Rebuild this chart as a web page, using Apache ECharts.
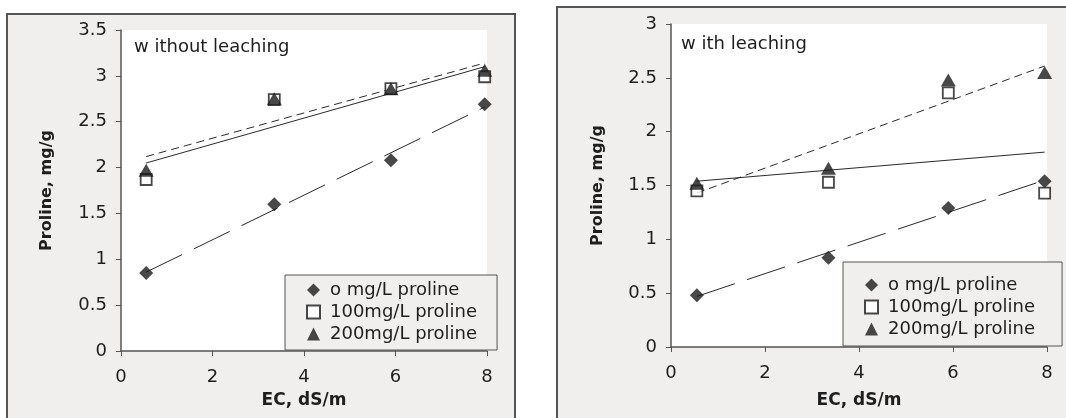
<!DOCTYPE html>
<html><head><meta charset="utf-8">
<script src="https://cdn.jsdelivr.net/npm/echarts@6/dist/echarts.min.js"></script>
<style>html,body{margin:0;padding:0;background:#fff}#c{width:1066px;height:418px}</style>
</head><body><div id="c"></div>
<script>
// EC values (dS/m)
const ecX = [0.55, 3.35, 5.9, 7.95];
// without leaching
const noLeach0 = [0.85, 1.60, 2.08, 2.69];
const noLeach100 = [1.87, 2.74, 2.86, 2.99];
const noLeach200 = [1.97, 2.75, 2.86, 3.06];
// with leaching
const leach0 = [0.48, 0.83, 1.29, 1.54];
const leach100 = [1.45, 1.53, 2.36, 1.43];
const leach200 = [1.52, 1.66, 2.48, 2.55];
// trend line end points
const trendX = [0.55, 7.95];
const noLeachTrend0 = [0.86, 2.66];
const noLeachTrend100 = [2.05, 3.10];
const noLeachTrend200 = [2.12, 3.14];
const leachTrend0 = [0.47, 1.55];
const leachTrend100 = [1.54, 1.81];
const leachTrend200 = [1.43, 2.61];
const seriesNames = ['o mg/L proline', '100mg/L proline', '200mg/L proline'];
const panelTitles = ['w ithout leaching', 'w ith leaching'];
const xTitle = 'EC, dS/m';
const yTitle = 'Proline, mg/g';

const FONT = 'DejaVu Sans';
const TXT = '#1e1e1e';
const zip = (xs, ys) => xs.map((x, i) => [x, ys[i]]);

const markerStyles = [
  {symbol: 'diamond', symbolSize: [14, 14], itemStyle: {color: '#1a1a1a'}},
  {symbol: 'rect', symbolSize: 11, itemStyle: {color: '#fff', borderColor: '#1a1a1a', borderWidth: 1.8}},
  {symbol: 'triangle', symbolSize: [15, 13], itemStyle: {color: '#1a1a1a'}}
];
const trendStyles = [[40, 13], 'solid', [8, 5]];

function panelSeries(idx, vals, trends) {
  const out = [];
  vals.forEach((v, i) => {
    out.push(Object.assign({
      type: 'scatter', name: seriesNames[i], xAxisIndex: idx, yAxisIndex: idx,
      data: zip(ecX, v), z: 5, silent: true
    }, markerStyles[i]));
  });
  trends.forEach((t, i) => {
    out.push({
      type: 'line', name: 'trend' + idx + '_' + i, xAxisIndex: idx, yAxisIndex: idx,
      data: zip(trendX, t), symbol: 'none', silent: true, z: 3,
      lineStyle: {color: '#2a2a2a', width: 1, type: trendStyles[i]}
    });
  });
  return out;
}

function xAx(gi, gap) {
  return {
    type: 'value', gridIndex: gi, min: 0, max: 8, interval: 2,
    name: xTitle, nameLocation: 'middle', nameGap: gap,
    nameTextStyle: {fontFamily: FONT, fontWeight: 'bold', fontSize: 17, color: TXT},
    axisLine: {show: true, lineStyle: {color: '#555', width: 1.5}},
    axisTick: {show: true, inside: false, length: 5, lineStyle: {color: '#555'}},
    axisLabel: {fontFamily: FONT, fontSize: 18, color: TXT, margin: 17},
    splitLine: {show: false}
  };
}
function yAx(gi, max, gap) {
  return {
    type: 'value', gridIndex: gi, min: 0, max: max, interval: 0.5,
    name: yTitle, nameLocation: 'middle', nameGap: gap,
    nameTextStyle: {fontFamily: FONT, fontWeight: 'bold', fontSize: 16, color: TXT},
    axisLine: {show: true, lineStyle: {color: '#555', width: 1.5}},
    axisTick: {show: true, inside: false, length: 5, lineStyle: {color: '#555'}},
    axisLabel: {fontFamily: FONT, fontSize: 18, color: TXT, margin: 14},
    splitLine: {show: false}
  };
}
function legendFor(left, top, padTop, padBottom, padRight) {
  return {
    data: seriesNames, orient: 'vertical', left: left, top: top,
    backgroundColor: '#f0efed', borderColor: '#555', borderWidth: 1, borderRadius: 0,
    padding: [padTop, padRight, padBottom, 21], itemGap: 4, itemWidth: 13, itemHeight: 13,
    selectedMode: false,
    formatter: '{t|{name}}',
    textStyle: {fontFamily: FONT, fontSize: 18, color: TXT, lineHeight: 16,
      rich: {t: {fontFamily: FONT, fontSize: 18, color: TXT, lineHeight: 16, padding: [0, 0, 0, 5]}}}
  };
}

const chart = echarts.init(document.getElementById('c'), null, {renderer: 'canvas'});
chart.setOption({
  animation: false,
  backgroundColor: '#fff',
  graphic: [
    {type: 'rect', z: -10, shape: {x: 7, y: 14, width: 508, height: 420},
     style: {fill: '#f0efed', stroke: '#555', lineWidth: 2}},
    {type: 'rect', z: -10, shape: {x: 557, y: 7, width: 520, height: 420},
     style: {fill: '#f0efed', stroke: '#555', lineWidth: 2}},
    {type: 'text', z: 10, left: 134, top: 38,
     style: {text: panelTitles[0], fontFamily: FONT, fontSize: 18, fill: TXT}},
    {type: 'text', z: 10, left: 681, top: 35,
     style: {text: panelTitles[1], fontFamily: FONT, fontSize: 18, fill: TXT}}
  ],
  grid: [
    {left: 121, top: 30, width: 366, height: 321, show: true, backgroundColor: '#fff', borderWidth: 0},
    {left: 671, top: 24, width: 376, height: 323, show: true, backgroundColor: '#fff', borderWidth: 0}
  ],
  xAxis: [xAx(0, 41), xAx(1, 45)],
  yAxis: [yAx(0, 3.5, 66), yAx(1, 3, 65)],
  legend: [legendFor(285, 275, 6, 7, 20), legendFor(843, 262, 14, 8, 27)],
  series: [].concat(
    panelSeries(0, [noLeach0, noLeach100, noLeach200], [noLeachTrend0, noLeachTrend100, noLeachTrend200]),
    panelSeries(1, [leach0, leach100, leach200], [leachTrend0, leachTrend100, leachTrend200])
  )
});
</script></body></html>
